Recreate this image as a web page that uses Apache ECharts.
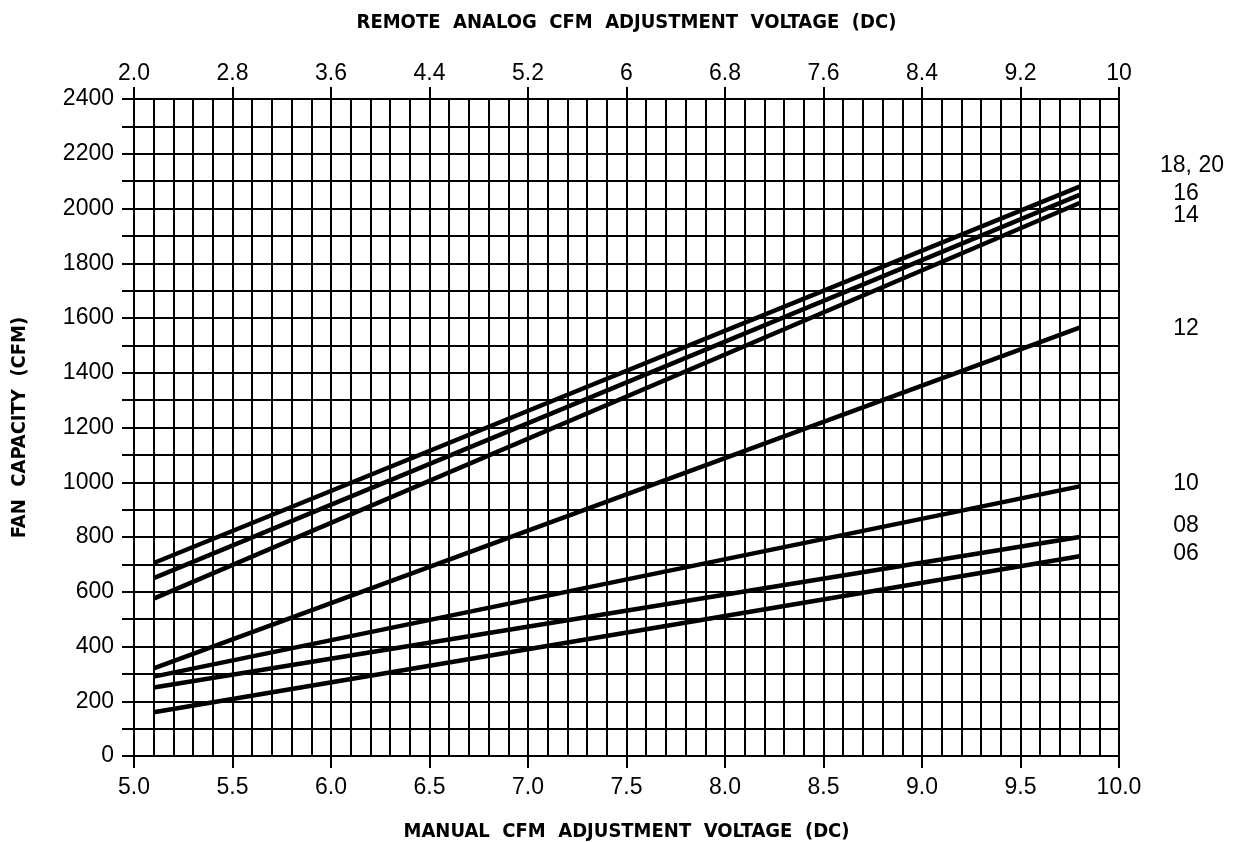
<!DOCTYPE html>
<html>
<head>
<meta charset="utf-8">
<title>Fan capacity vs adjustment voltage</title>
<script src="https://cdn.jsdelivr.net/npm/echarts@6/dist/echarts.min.js"></script>
<style>
  html, body { margin: 0; padding: 0; background: #fff; }
  #chart { width: 1233px; height: 842px; }
</style>
</head>
<body>
<div id="chart"></div>
<script>
// manual voltage at start / end of every curve
const manualVolts = [5.1, 9.8];
// fan capacity (CFM) at those voltages, per unit size
const size06 = [160, 730];
const size08 = [250, 800];
const size10 = [290, 985];
const size12 = [320, 1565];
const size14 = [575, 2020];
const size16 = [650, 2050];
const size1820 = [705, 2080];
// labels of the remote analog axis (top), one per 0.5 V manual tick
const remoteLabels = ['2.0', '2.8', '3.6', '4.4', '5.2', '6', '6.8', '7.6', '8.4', '9.2', '10'];
const sizeNames = ['18, 20', '16', '14', '12', '10', '08', '06'];

const labelFont = 'Liberation Sans, Arial, sans-serif';
const titleFont = 'DejaVu Sans Condensed, DejaVu Sans, sans-serif';

function pairs(vals) {
  return manualVolts.map((v, i) => [v, vals[i]]);
}

function curve(name, vals) {
  return {
    name: name,
    type: 'line',
    showSymbol: false,
    silent: true,
    lineStyle: { color: '#000', width: 4.5 },
    data: pairs(vals)
  };
}

const chart = echarts.init(document.getElementById('chart'));

// size labels in the right margin, pixel placed like the drawing
const namePos = [[1192, 166], [1186, 194], [1186, 216], [1186, 329], [1186, 484], [1186, 526], [1186, 554]];

const titleStyle = { color: '#000', fontFamily: titleFont, fontWeight: 'bold', fontSize: 20 };

chart.setOption({
  animation: false,
  backgroundColor: '#fff',
  grid: { left: 134, right: 114, top: 99, bottom: 86, containLabel: false, outerBoundsMode: 'none' },
  xAxis: [
    {
      type: 'value', position: 'bottom', min: 5, max: 10, interval: 0.5,
      name: 'MANUAL  CFM  ADJUSTMENT  VOLTAGE  (DC)', nameLocation: 'middle', nameGap: 66,
      nameTextStyle: titleStyle,
      axisLine: { show: true, lineStyle: { color: '#000', width: 2 } },
      axisTick: { show: true, inside: false, length: 12, lineStyle: { color: '#000', width: 2 } },
      axisLabel: { color: '#000', fontFamily: labelFont, fontSize: 23, margin: 20,
        formatter: v => v.toFixed(1) },
      splitLine: { show: true, lineStyle: { color: '#000', width: 2 } },
      minorTick: { show: false, splitNumber: 5 },
      minorSplitLine: { show: true, lineStyle: { color: '#000', width: 2 } }
    },
    {
      type: 'value', position: 'top', min: 5, max: 10, interval: 0.5,
      name: 'REMOTE  ANALOG  CFM  ADJUSTMENT  VOLTAGE  (DC)', nameLocation: 'middle', nameGap: 66,
      nameTextStyle: titleStyle,
      axisLine: { show: true, lineStyle: { color: '#000', width: 2 } },
      axisTick: { show: true, inside: false, length: 12, lineStyle: { color: '#000', width: 2 } },
      axisLabel: { color: '#000', fontFamily: labelFont, fontSize: 23, margin: 14,
        formatter: (v) => remoteLabels[Math.round((v - 5) / 0.5)] },
      splitLine: { show: false }
    }
  ],
  yAxis: {
    type: 'value', min: 0, max: 2400, interval: 200,
    name: 'FAN  CAPACITY  (CFM)', nameLocation: 'middle', nameGap: 104,
    nameTextStyle: titleStyle,
    axisLine: { show: true, lineStyle: { color: '#000', width: 2 } },
    axisTick: { show: true, inside: false, length: 12, lineStyle: { color: '#000', width: 2 } },
    minorTick: { show: true, splitNumber: 2, length: 12, lineStyle: { color: '#000', width: 2 } },
    axisLabel: { color: '#000', fontFamily: labelFont, fontSize: 23, margin: 20,
      formatter: v => String(v) },
    splitLine: { show: true, lineStyle: { color: '#000', width: 2 } },
    minorSplitLine: { show: true, lineStyle: { color: '#000', width: 2 } }
  },
  series: [
    curve('06', size06),
    curve('08', size08),
    curve('10', size10),
    curve('12', size12),
    curve('14', size14),
    curve('16', size16),
    curve('18, 20', size1820)
  ],
  graphic: sizeNames.map((n, i) => ({
    type: 'text',
    x: namePos[i][0], y: namePos[i][1],
    style: {
      text: n, fill: '#000', font: '23px ' + labelFont,
      align: 'center', verticalAlign: 'middle'
    }
  }))
});
</script>
</body>
</html>
